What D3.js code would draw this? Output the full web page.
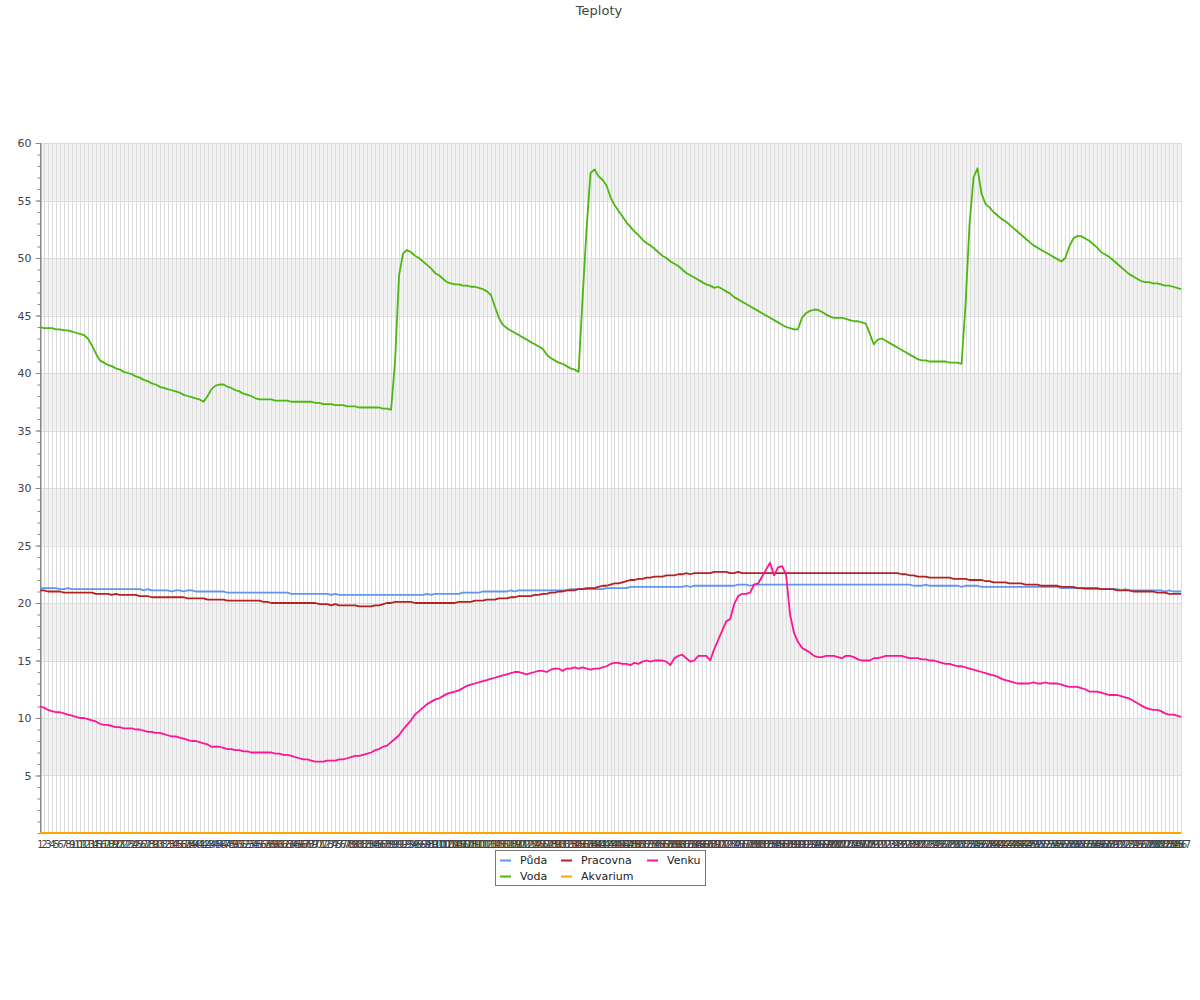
<!DOCTYPE html>
<html>
<head>
<meta charset="utf-8">
<script src="https://cdn.jsdelivr.net/npm/d3@7"></script>
<style>
  html, body { margin: 0; padding: 0; background: #fff; }
  svg { display: block; font-family: "DejaVu Sans", sans-serif; }
</style>
</head>
<body>
<svg id="chart" width="1200" height="1000"></svg>
<script>
const title = "Teploty";
const categories = d3.range(1, 288).map(String);
const yTicks = [5, 10, 15, 20, 25, 30, 35, 40, 45, 50, 55, 60];
const seriesNames = ["Půda", "Voda", "Pracovna", "Akvarium", "Venku"];
const seriesColors = ["#6495ED", "#4CB80F", "#B22222", "#FFA500", "#FF1493"];

const puda = [
21.3,21.3,21.3,21.3,21.3,21.2,21.2,21.3,21.2,21.2,
21.2,21.2,21.2,21.2,21.2,21.2,21.2,21.2,21.2,21.2,
21.2,21.2,21.2,21.2,21.2,21.2,21.1,21.2,21.1,21.1,
21.1,21.1,21.1,21.0,21.1,21.1,21.0,21.1,21.1,21.0,
21.0,21.0,21.0,21.0,21.0,21.0,21.0,20.9,20.9,20.9,
20.9,20.9,20.9,20.9,20.9,20.9,20.9,20.9,20.9,20.9,
20.9,20.9,20.9,20.8,20.8,20.8,20.8,20.8,20.8,20.8,
20.8,20.8,20.8,20.7,20.8,20.7,20.7,20.7,20.7,20.7,
20.7,20.7,20.7,20.7,20.7,20.7,20.7,20.7,20.7,20.7,
20.7,20.7,20.7,20.7,20.7,20.7,20.7,20.8,20.7,20.8,
20.8,20.8,20.8,20.8,20.8,20.8,20.9,20.9,20.9,20.9,
20.9,21.0,21.0,21.0,21.0,21.0,21.0,21.0,21.1,21.0,
21.1,21.1,21.1,21.1,21.1,21.1,21.1,21.1,21.1,21.1,
21.1,21.1,21.1,21.2,21.2,21.2,21.2,21.2,21.2,21.2,
21.2,21.2,21.3,21.3,21.3,21.3,21.3,21.3,21.4,21.4,
21.4,21.4,21.4,21.4,21.4,21.4,21.4,21.4,21.4,21.4,
21.4,21.4,21.5,21.4,21.5,21.5,21.5,21.5,21.5,21.5,
21.5,21.5,21.5,21.5,21.5,21.6,21.6,21.6,21.5,21.6,
21.6,21.6,21.6,21.6,21.6,21.6,21.6,21.6,21.6,21.6,
21.6,21.6,21.6,21.6,21.6,21.6,21.6,21.6,21.6,21.6,
21.6,21.6,21.6,21.6,21.6,21.6,21.6,21.6,21.6,21.6,
21.6,21.6,21.6,21.6,21.6,21.6,21.6,21.6,21.6,21.5,
21.5,21.5,21.6,21.5,21.5,21.5,21.5,21.5,21.5,21.5,
21.5,21.4,21.5,21.5,21.5,21.5,21.4,21.4,21.4,21.4,
21.4,21.4,21.4,21.4,21.4,21.4,21.4,21.4,21.4,21.4,
21.4,21.4,21.4,21.4,21.4,21.4,21.3,21.3,21.3,21.3,
21.3,21.3,21.2,21.2,21.2,21.2,21.2,21.2,21.2,21.2,
21.2,21.1,21.2,21.1,21.1,21.1,21.1,21.1,21.1,21.1,
21.1,21.1,21.0,21.1,21.0,21.0,21.0
];

const voda = [
44.0,43.9,43.9,43.9,43.8,43.8,43.7,43.7,43.6,43.5,
43.4,43.3,43.0,42.4,41.7,41.1,40.9,40.7,40.6,40.4,
40.3,40.1,40.0,39.9,39.7,39.6,39.4,39.3,39.1,39.0,
38.8,38.7,38.6,38.5,38.4,38.3,38.1,38.0,37.9,37.8,
37.7,37.5,38.0,38.6,38.9,39.0,39.0,38.8,38.7,38.5,
38.4,38.2,38.1,38.0,37.8,37.7,37.7,37.7,37.7,37.6,
37.6,37.6,37.6,37.5,37.5,37.5,37.5,37.5,37.5,37.4,
37.4,37.3,37.3,37.3,37.2,37.2,37.2,37.1,37.1,37.1,
37.0,37.0,37.0,37.0,37.0,37.0,36.9,36.9,36.8,41.0,
48.5,50.4,50.7,50.5,50.2,50.0,49.7,49.4,49.1,48.7,
48.5,48.2,47.9,47.8,47.7,47.7,47.6,47.6,47.5,47.5,
47.4,47.3,47.1,46.8,45.8,44.8,44.2,43.9,43.7,43.5,
43.3,43.1,42.9,42.7,42.5,42.3,42.1,41.6,41.3,41.1,
40.9,40.8,40.6,40.4,40.3,40.1,46.5,52.5,57.4,57.7,
57.1,56.8,56.3,55.3,54.6,54.1,53.6,53.1,52.7,52.3,
52.0,51.6,51.3,51.1,50.8,50.5,50.2,50.0,49.7,49.5,
49.3,49.0,48.7,48.5,48.3,48.1,47.9,47.7,47.6,47.4,
47.5,47.3,47.1,46.9,46.6,46.4,46.2,46.0,45.8,45.6,
45.4,45.2,45.0,44.8,44.6,44.4,44.2,44.0,43.9,43.8,
43.8,44.8,45.2,45.4,45.5,45.5,45.3,45.1,44.9,44.8,
44.8,44.8,44.7,44.6,44.5,44.5,44.4,44.3,43.4,42.5,
42.9,43.0,42.8,42.6,42.4,42.2,42.0,41.8,41.6,41.4,
41.2,41.1,41.1,41.0,41.0,41.0,41.0,41.0,40.9,40.9,
40.9,40.8,46.0,53.0,57.0,57.8,55.6,54.7,54.4,54.0,
53.7,53.4,53.2,52.9,52.6,52.3,52.0,51.7,51.4,51.1,
50.9,50.7,50.5,50.3,50.1,49.9,49.7,50.0,51.0,51.7,
51.9,51.9,51.7,51.5,51.2,50.9,50.5,50.3,50.1,49.8,
49.5,49.2,48.9,48.6,48.4,48.2,48.0,47.9,47.9,47.8,
47.8,47.7,47.6,47.6,47.5,47.4,47.3
];

const pracovna = [
21.1,21.1,21.0,21.0,21.0,21.0,20.9,20.9,20.9,20.9,
20.9,20.9,20.9,20.9,20.8,20.8,20.8,20.8,20.7,20.8,
20.7,20.7,20.7,20.7,20.7,20.6,20.6,20.6,20.5,20.5,
20.5,20.5,20.5,20.5,20.5,20.5,20.5,20.4,20.4,20.4,
20.4,20.4,20.3,20.3,20.3,20.3,20.3,20.2,20.2,20.2,
20.2,20.2,20.2,20.2,20.2,20.2,20.1,20.1,20.0,20.0,
20.0,20.0,20.0,20.0,20.0,20.0,20.0,20.0,20.0,20.0,
19.9,19.9,19.9,19.8,19.9,19.8,19.8,19.8,19.8,19.8,
19.7,19.7,19.7,19.7,19.8,19.8,19.9,20.0,20.0,20.1,
20.1,20.1,20.1,20.1,20.0,20.0,20.0,20.0,20.0,20.0,
20.0,20.0,20.0,20.0,20.0,20.1,20.1,20.1,20.1,20.2,
20.2,20.2,20.3,20.3,20.3,20.4,20.4,20.4,20.5,20.5,
20.6,20.6,20.6,20.6,20.7,20.7,20.8,20.8,20.9,20.9,
21.0,21.0,21.1,21.1,21.1,21.2,21.2,21.3,21.3,21.3,
21.4,21.5,21.5,21.6,21.7,21.7,21.8,21.9,22.0,22.0,
22.1,22.1,22.2,22.2,22.3,22.3,22.3,22.4,22.4,22.4,
22.5,22.5,22.6,22.5,22.6,22.6,22.6,22.6,22.6,22.7,
22.7,22.7,22.7,22.6,22.6,22.7,22.6,22.6,22.6,22.6,
22.6,22.6,22.6,22.6,22.6,22.6,22.6,22.6,22.6,22.6,
22.6,22.6,22.6,22.6,22.6,22.6,22.6,22.6,22.6,22.6,
22.6,22.6,22.6,22.6,22.6,22.6,22.6,22.6,22.6,22.6,
22.6,22.6,22.6,22.6,22.6,22.6,22.5,22.5,22.4,22.4,
22.3,22.3,22.3,22.2,22.2,22.2,22.2,22.2,22.2,22.1,
22.1,22.1,22.1,22.0,22.0,22.0,22.0,21.9,21.9,21.8,
21.8,21.8,21.8,21.7,21.7,21.7,21.7,21.6,21.6,21.6,
21.6,21.5,21.5,21.5,21.5,21.5,21.4,21.4,21.4,21.4,
21.3,21.3,21.3,21.3,21.3,21.3,21.2,21.2,21.2,21.2,
21.1,21.1,21.1,21.1,21.0,21.0,21.0,21.0,21.0,21.0,
20.9,20.9,20.9,20.8,20.8,20.8,20.8
];

const akvarium = [
0,0,0,0,0,0,0,0,0,0, 0,0,0,0,0,0,0,0,0,0, 0,0,0,0,0,0,0,0,0,0,
0,0,0,0,0,0,0,0,0,0, 0,0,0,0,0,0,0,0,0,0, 0,0,0,0,0,0,0,0,0,0,
0,0,0,0,0,0,0,0,0,0, 0,0,0,0,0,0,0,0,0,0, 0,0,0,0,0,0,0,0,0,0,
0,0,0,0,0,0,0,0,0,0, 0,0,0,0,0,0,0,0,0,0, 0,0,0,0,0,0,0,0,0,0,
0,0,0,0,0,0,0,0,0,0, 0,0,0,0,0,0,0,0,0,0, 0,0,0,0,0,0,0,0,0,0,
0,0,0,0,0,0,0,0,0,0, 0,0,0,0,0,0,0,0,0,0, 0,0,0,0,0,0,0,0,0,0,
0,0,0,0,0,0,0,0,0,0, 0,0,0,0,0,0,0,0,0,0, 0,0,0,0,0,0,0,0,0,0,
0,0,0,0,0,0,0,0,0,0, 0,0,0,0,0,0,0,0,0,0, 0,0,0,0,0,0,0,0,0,0,
0,0,0,0,0,0,0,0,0,0, 0,0,0,0,0,0,0,0,0,0, 0,0,0,0,0,0,0,0,0,0,
0,0,0,0,0,0,0,0,0,0, 0,0,0,0,0,0,0
];

const venku = [
11.0,10.9,10.7,10.6,10.5,10.5,10.4,10.3,10.2,10.1,
10.0,10.0,9.9,9.8,9.7,9.5,9.4,9.4,9.3,9.2,
9.2,9.1,9.1,9.1,9.0,9.0,8.9,8.8,8.8,8.7,
8.7,8.6,8.5,8.4,8.4,8.3,8.2,8.1,8.0,8.0,
7.9,7.8,7.7,7.5,7.5,7.5,7.4,7.3,7.3,7.2,
7.2,7.1,7.1,7.0,7.0,7.0,7.0,7.0,7.0,6.9,
6.9,6.8,6.8,6.7,6.6,6.5,6.4,6.4,6.3,6.2,
6.2,6.2,6.3,6.3,6.3,6.4,6.4,6.5,6.6,6.7,
6.7,6.8,6.9,7.0,7.2,7.3,7.5,7.6,7.9,8.2,
8.5,9.0,9.4,9.8,10.3,10.6,10.9,11.2,11.4,11.6,
11.7,11.9,12.1,12.2,12.3,12.4,12.6,12.8,12.9,13.0,
13.1,13.2,13.3,13.4,13.5,13.6,13.7,13.8,13.9,14.0,
14.0,13.9,13.8,13.9,14.0,14.1,14.1,14.0,14.2,14.3,
14.3,14.1,14.3,14.3,14.4,14.3,14.4,14.3,14.2,14.3,
14.3,14.4,14.5,14.7,14.8,14.8,14.7,14.7,14.6,14.8,
14.7,14.9,15.0,14.9,15.0,15.0,15.0,14.9,14.6,15.2,
15.4,15.5,15.2,14.9,15.0,15.4,15.4,15.4,15.0,16.0,
16.8,17.6,18.4,18.6,19.9,20.6,20.8,20.8,20.9,21.6,
21.7,22.3,22.9,23.5,22.4,23.1,23.2,22.5,19.0,17.4,
16.6,16.1,15.9,15.7,15.4,15.3,15.3,15.4,15.4,15.4,
15.3,15.2,15.4,15.4,15.3,15.1,15.0,15.0,15.0,15.2,
15.2,15.3,15.4,15.4,15.4,15.4,15.4,15.3,15.2,15.2,
15.2,15.1,15.1,15.0,15.0,14.9,14.8,14.7,14.7,14.6,
14.5,14.5,14.4,14.3,14.2,14.1,14.0,13.9,13.8,13.7,
13.6,13.4,13.3,13.2,13.1,13.0,13.0,13.0,13.0,13.1,
13.0,13.0,13.1,13.0,13.0,13.0,12.9,12.8,12.7,12.7,
12.7,12.6,12.5,12.3,12.3,12.3,12.2,12.1,12.0,12.0,
12.0,11.9,11.8,11.7,11.5,11.3,11.1,10.9,10.8,10.7,
10.7,10.6,10.4,10.3,10.3,10.2,10.1
];

const seriesData = [puda, voda, pracovna, akvarium, venku];

const svg = d3.select("#chart");
const margin = { left: 40, right: 19, top: 143, bottom: 167 };
const W = 1200, H = 1000;
const x = d3.scalePoint().domain(categories).range([margin.left, W - margin.right]);
const y = d3.scaleLinear().domain([0, 60]).range([H - margin.bottom, margin.top]);

// title
svg.append("text").attr("x", 599).attr("y", 15).attr("text-anchor", "middle")
  .attr("font-size", 13).attr("fill", "#444").text(title);

// alternating bands
const bandStarts = yTicks.filter((d, i) => i % 2 === 0);
svg.append("g").selectAll("rect").data(bandStarts).join("rect")
  .attr("x", x.range()[0]).attr("width", x.range()[1] - x.range()[0])
  .attr("y", d => y(d + 5)).attr("height", d => y(d) - y(d + 5))
  .attr("fill", "#f2f2f2");

// vertical gridlines
svg.append("g").selectAll("line").data(categories).join("line")
  .attr("x1", d => Math.round(x(d)) + 0.5).attr("x2", d => Math.round(x(d)) + 0.5)
  .attr("y1", y(60)).attr("y2", y(0))
  .attr("stroke", "#dcdcdc").attr("stroke-width", 1);

// horizontal gridlines
svg.append("g").selectAll("line").data(yTicks).join("line")
  .attr("x1", x.range()[0]).attr("x2", x.range()[1])
  .attr("y1", d => Math.round(y(d)) + 0.5).attr("y2", d => Math.round(y(d)) + 0.5)
  .attr("stroke", "#dcdcdc").attr("stroke-width", 1);

// y axis
const yAxisMinor = svg.append("g").attr("transform", `translate(${margin.left + 0.5},0)`)
  .call(d3.axisLeft(y).ticks(60).tickSize(3).tickFormat(""));
yAxisMinor.selectAll("line").attr("stroke", "#888");
yAxisMinor.select(".domain").remove();
const yAxis = svg.append("g").attr("transform", `translate(${margin.left + 0.5},0)`)
  .call(d3.axisLeft(y).tickValues(yTicks).tickSize(5).tickPadding(4).tickSizeOuter(0));
yAxis.select(".domain").attr("stroke", "#888");
yAxis.selectAll("line").attr("stroke", "#888");
yAxis.selectAll("text").attr("font-size", 11).attr("fill", "#444")
  .attr("font-family", "DejaVu Sans, sans-serif");
// vertical axis line extends to zero
svg.append("line").attr("x1", margin.left + 0.5).attr("x2", margin.left + 0.5)
  .attr("y1", y(60)).attr("y2", y(0)).attr("stroke", "#888");

// x axis
const xAxis = svg.append("g").attr("transform", `translate(0,${y(0)})`)
  .call(d3.axisBottom(x).tickSize(0).tickPadding(8));
xAxis.select(".domain").attr("stroke", "#888");
xAxis.selectAll("text").attr("font-size", 10).attr("fill", "#444")
  .attr("font-family", "DejaVu Sans, sans-serif");

// lines
const line = d3.line().x((d, i) => x(categories[i])).y(d => y(d));
const drawOrder = [0, 2, 4, 1, 3];
svg.append("g").selectAll("path").data(drawOrder).join("path")
  .attr("d", k => line(seriesData[k]))
  .attr("fill", "none")
  .attr("stroke", k => seriesColors[k])
  .attr("stroke-width", 1.8)
  .attr("stroke-linejoin", "round");

// legend
const legend = svg.append("g").attr("transform", "translate(495,850)");
legend.append("rect").attr("x", 0.5).attr("y", 0.5).attr("width", 210).attr("height", 35)
  .attr("fill", "#fff").attr("stroke", "#777");
const colX = [5, 66, 152];
const legendPos = [[0, 0], [0, 1], [1, 0], [1, 1], [2, 0]];
seriesNames.forEach((name, k) => {
  const [c, r] = legendPos[k];
  const g = legend.append("g").attr("transform", `translate(${colX[c]},${10 + r * 16})`);
  g.append("line").attr("x1", 0).attr("x2", 11).attr("y1", 0.5).attr("y2", 0.5)
    .attr("stroke", seriesColors[k]).attr("stroke-width", 2);
  g.append("text").attr("x", 20).attr("y", 4).attr("font-size", 11).attr("fill", "#222").text(name);
});
</script>
</body>
</html>
